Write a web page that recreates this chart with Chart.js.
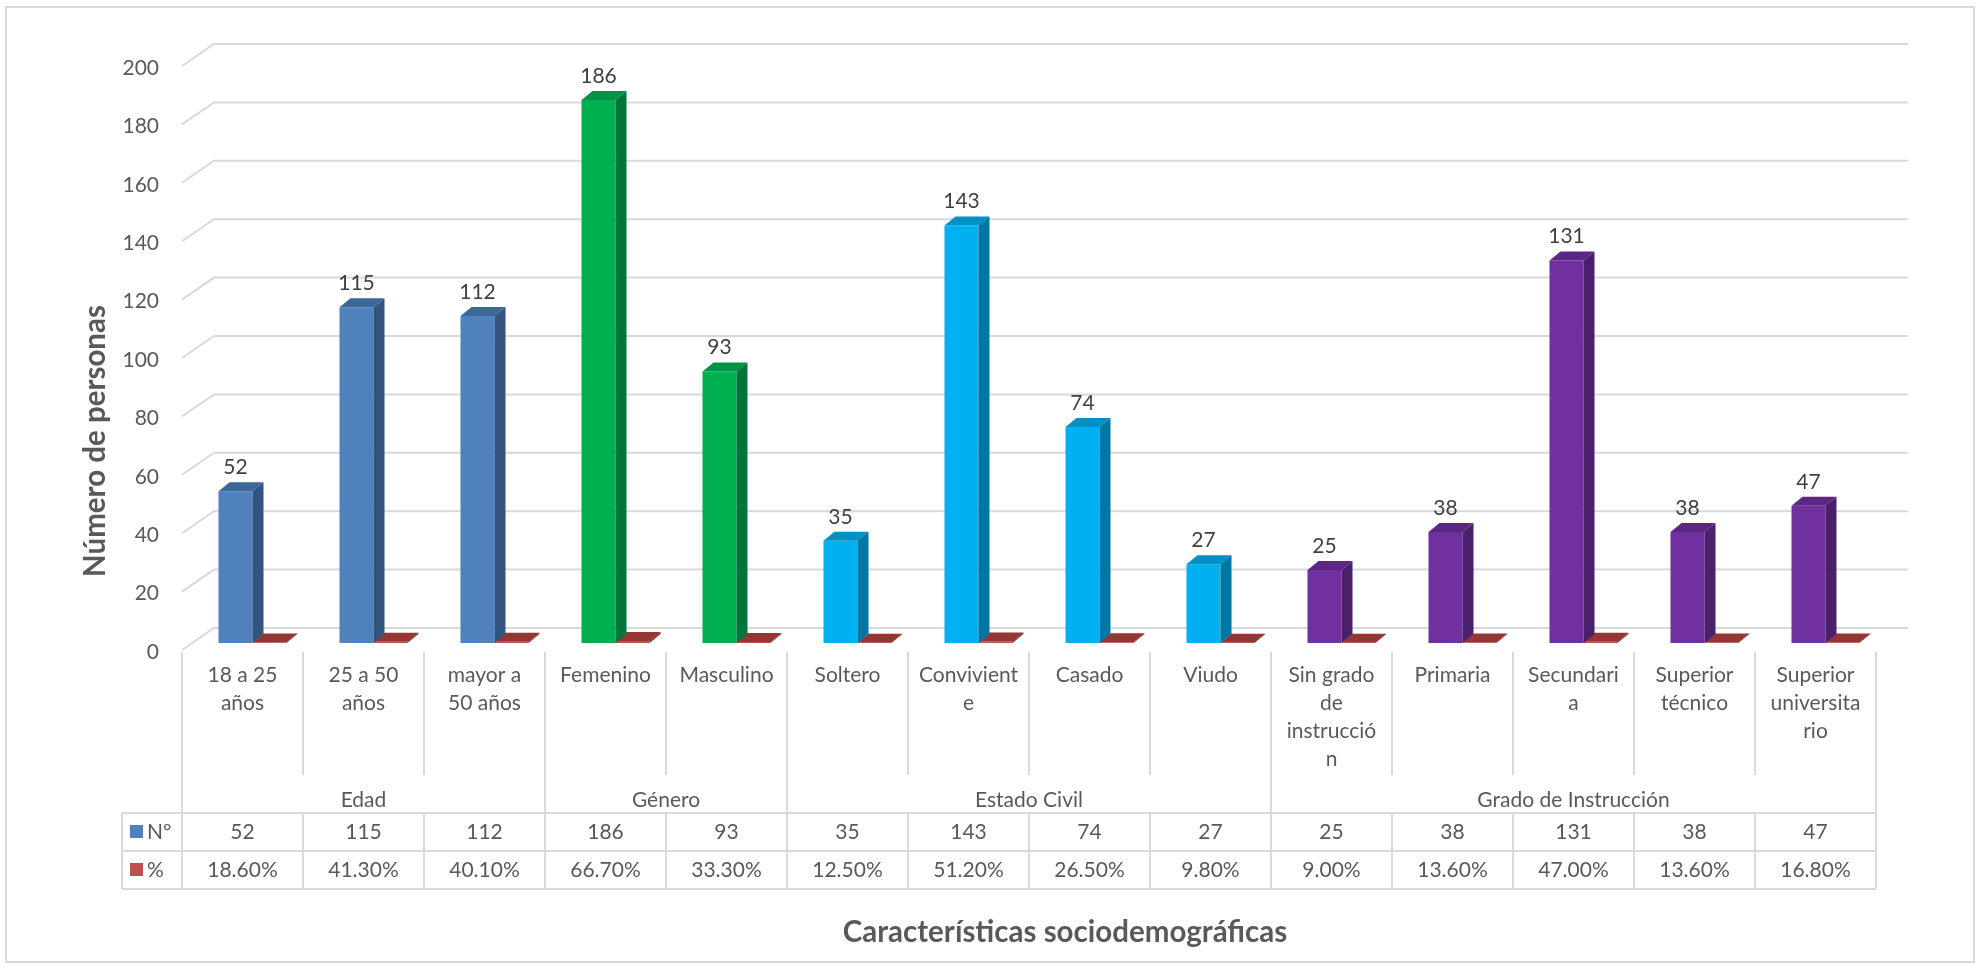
<!DOCTYPE html>
<html>
<head>
<meta charset="utf-8">
<script src="https://cdn.jsdelivr.net/npm/chart.js@4.4.1/dist/chart.umd.min.js"></script>
<style>
  html, body { margin: 0; padding: 0; background: #ffffff; }
  canvas { display: block; }
</style>
</head>
<body>
<canvas id="c" width="1980" height="968"></canvas>
<script>
// ---------------- DATA ----------------
const categories = ['18 a 25 años', '25 a 50 años', 'mayor a 50 años', 'Femenino', 'Masculino',
  'Soltero', 'Conviviente', 'Casado', 'Viudo', 'Sin grado de instrucción', 'Primaria',
  'Secundaria', 'Superior técnico', 'Superior universitario'];
const categoryLines = [['18 a 25', 'años'], ['25 a 50', 'años'], ['mayor a', '50 años'], ['Femenino'], ['Masculino'],
  ['Soltero'], ['Convivient', 'e'], ['Casado'], ['Viudo'], ['Sin grado', 'de', 'instrucció', 'n'], ['Primaria'],
  ['Secundari', 'a'], ['Superior', 'técnico'], ['Superior', 'universita', 'rio']];
const groupNames = ['Edad', 'Género', 'Estado Civil', 'Grado de Instrucción'];
const groupSizes = [3, 2, 4, 5];
const countValues = [52, 115, 112, 186, 93, 35, 143, 74, 27, 25, 38, 131, 38, 47];
const percentValues = [18.6, 41.3, 40.1, 66.7, 33.3, 12.5, 51.2, 26.5, 9.8, 9.0, 13.6, 47.0, 13.6, 16.8];
const seriesNames = ['Nº', '%'];
const yTicks = { min: 0, max: 200, step: 20 };

// ---------------- STYLE ----------------
const groupFront = ['#4F81BD', '#00B050', '#00B0F0', '#7030A0'];
const groupSide  = ['#32547F', '#00763A', '#0076A2', '#4A1F6C'];
const groupTop   = ['#3C6899', '#009246', '#0090C6', '#5B2784'];
const redFront = '#C0504D', redTop = '#943634', redSide = '#7A2C2A';
const FONT = 'Lato, "Open Sans", sans-serif';
const TXT = '#595959';
const LINE = '#d9d9d9';

function groupIndexOf(i) {
  let acc = 0;
  for (let g = 0; g < groupSizes.length; g++) { acc += groupSizes[g]; if (i < acc) return g; }
  return groupSizes.length - 1;
}
const frontColors = categories.map((_, i) => groupFront[groupIndexOf(i)]);
const sideColors  = categories.map((_, i) => groupSide[groupIndexOf(i)]);
const topColors   = categories.map((_, i) => groupTop[groupIndexOf(i)]);

// 3D offsets (pixels)
const DEPTH = { dx: 11, dy: -9 };     // bar depth
const BACK  = { dx: 22, dy: -15 };    // bar plane -> back wall
const FRONT = { dx: -10, dy: 7 };     // bar plane -> front plane

const threeD = {
  id: 'threeD',
  beforeDatasetsDraw(chart) {
    const ctx = chart.ctx, ys = chart.scales.y, ca = chart.chartArea;
    ctx.save();
    ctx.strokeStyle = LINE; ctx.lineWidth = 2;
    ys.ticks.forEach(t => {
      const y = ys.getPixelForValue(t.value);
      ctx.beginPath();
      ctx.moveTo(ca.left + FRONT.dx, y + FRONT.dy);
      ctx.lineTo(ca.left + BACK.dx, y + BACK.dy);
      ctx.lineTo(ca.right + BACK.dx, y + BACK.dy);
      ctx.stroke();
    });
    ctx.restore();
  },
  afterDatasetsDraw(chart) {
    const ctx = chart.ctx;
    ctx.save();
    const m0 = chart.getDatasetMeta(0), m1 = chart.getDatasetMeta(1);
    const poly = (pts, color) => {
      ctx.fillStyle = color; ctx.beginPath();
      ctx.moveTo(pts[0][0], pts[0][1]);
      for (let k = 1; k < pts.length; k++) ctx.lineTo(pts[k][0], pts[k][1]);
      ctx.closePath(); ctx.fill();
    };
    const faces = (el, side, top) => {
      const p = el.getProps(['x', 'y', 'base', 'width'], true);
      const l = p.x - p.width / 2, r = p.x + p.width / 2;
      poly([[l, p.y], [r, p.y], [r + DEPTH.dx, p.y + DEPTH.dy], [l + DEPTH.dx, p.y + DEPTH.dy]], top);
      poly([[r, p.y], [r + DEPTH.dx, p.y + DEPTH.dy], [r + DEPTH.dx, p.base + DEPTH.dy], [r, p.base]], side);
    };
    categories.forEach((_, i) => {
      faces(m1.data[i], redSide, redTop);
      faces(m0.data[i], sideColors[i], topColors[i]);
    });
    // value labels
    ctx.fillStyle = '#404040';
    ctx.font = '21px ' + FONT;
    ctx.textAlign = 'center'; ctx.textBaseline = 'middle';
    m0.data.forEach((el, i) => {
      const p = el.getProps(['x', 'y'], true);
      ctx.fillText(String(countValues[i]), p.x, p.y - 24);
    });
    ctx.restore();
  },
  afterDraw(chart) {
    const ctx = chart.ctx, xs = chart.scales.x, ys = chart.scales.y;
    const base = ys.getPixelForValue(0);
    const catW = xs.getPixelForValue(1) - xs.getPixelForValue(0);
    const x0 = xs.getPixelForValue(0) - catW / 2 + FRONT.dx;
    const bx = i => x0 + i * catW;
    const n = categories.length;
    const yLblTop = base + 9, yLblEnd = base + 132;
    const yT0 = base + 170, yT1 = base + 208, yT2 = base + 246;
    const tableLeft = x0 - 60;
    ctx.save();
    ctx.strokeStyle = LINE; ctx.lineWidth = 2;
    const line = (a, b, c, d) => { ctx.beginPath(); ctx.moveTo(a, b); ctx.lineTo(c, d); ctx.stroke(); };
    // group boundaries
    const bounds = [0]; let acc = 0;
    groupSizes.forEach(s => { acc += s; bounds.push(acc); });
    for (let i = 0; i <= n; i++) {
      if (bounds.includes(i)) line(bx(i), yLblTop, bx(i), yT2);
      else { line(bx(i), yLblTop, bx(i), yLblEnd); line(bx(i), yT0, bx(i), yT2); }
    }
    line(tableLeft, yT0, tableLeft, yT2);
    [yT0, yT1, yT2].forEach(y => line(tableLeft, y, bx(n), y));
    // texts
    ctx.fillStyle = TXT;
    ctx.font = '21px ' + FONT;
    ctx.textAlign = 'center'; ctx.textBaseline = 'middle';
    categoryLines.forEach((lines, i) => {
      lines.forEach((s, k) => ctx.fillText(s, bx(i) + catW / 2, base + 32 + k * 28));
      ctx.fillText(String(countValues[i]), bx(i) + catW / 2, (yT0 + yT1) / 2);
      ctx.fillText(percentValues[i].toFixed(2) + '%', bx(i) + catW / 2, (yT1 + yT2) / 2);
    });
    groupNames.forEach((g, k) => {
      ctx.fillText(g, (bx(bounds[k]) + bx(bounds[k + 1])) / 2, base + 157);
    });
    // legend keys
    ctx.textAlign = 'left';
    ctx.fillStyle = frontColors[0];
    ctx.fillRect(tableLeft + 8, (yT0 + yT1) / 2 - 7, 13, 13);
    ctx.fillStyle = redFront;
    ctx.fillRect(tableLeft + 8, (yT1 + yT2) / 2 - 7, 13, 13);
    ctx.fillStyle = TXT;
    ctx.fillText(seriesNames[0], tableLeft + 25, (yT0 + yT1) / 2);
    ctx.fillText(seriesNames[1], tableLeft + 25, (yT1 + yT2) / 2);
    // axis titles
    ctx.font = 'bold 29.5px ' + FONT;
    ctx.textAlign = 'center';
    ctx.fillText('Características sociodemográficas', 1065, 932);
    ctx.translate(95, 441);
    ctx.rotate(-Math.PI / 2);
    ctx.fillText('Número de personas', 0, 0);
    ctx.restore();
    // outer border
    ctx.save();
    ctx.strokeStyle = LINE; ctx.lineWidth = 2;
    ctx.strokeRect(6, 7, 1968, 955);
    ctx.restore();
  }
};

function draw() {
  new Chart(document.getElementById('c'), {
    type: 'bar',
    data: {
      labels: categories,
      datasets: [
        { label: seriesNames[0], data: countValues, backgroundColor: frontColors, borderWidth: 0 },
        { label: seriesNames[1], data: percentValues.map(v => v / 100), backgroundColor: redFront, borderWidth: 0 }
      ]
    },
    options: {
      responsive: false,
      animation: false,
      devicePixelRatio: 1,
      layout: { padding: { left: 0, right: 94, top: 59, bottom: 325 } },
      plugins: { legend: { display: false }, tooltip: { enabled: false } },
      datasets: { bar: { categoryPercentage: 0.562, barPercentage: 1 } },
      scales: {
        x: { display: false, offset: true },
        y: {
          min: yTicks.min, max: yTicks.max,
          afterFit(scale) { scale.width = 192; },
          grid: { display: false, drawTicks: false },
          border: { display: false },
          ticks: { stepSize: yTicks.step, padding: 33, labelOffset: 9, color: TXT, font: { family: FONT, size: 21 } }
        }
      }
    },
    plugins: [threeD]
  });
}
Promise.all([document.fonts.load('21px Lato'), document.fonts.load('bold 29.5px Lato')])
  .then(draw, draw);
</script>
</body>
</html>
